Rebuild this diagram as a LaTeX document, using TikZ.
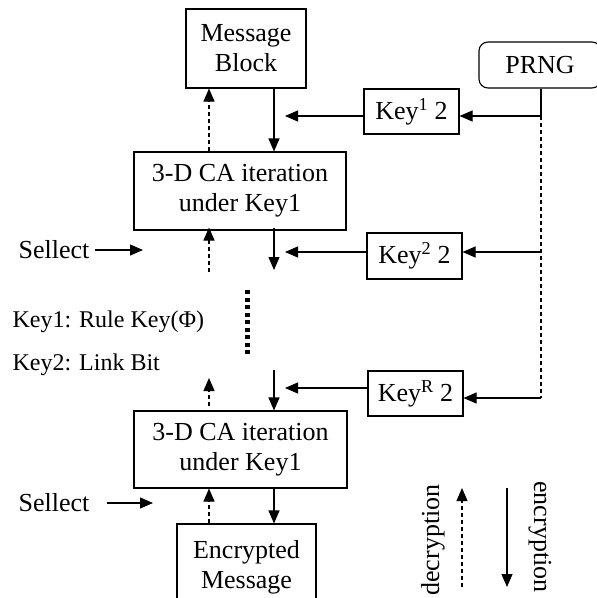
\documentclass[tikz,border=0pt]{standalone}
\usepackage{fontspec}
\setmainfont{Liberation Serif}
\usetikzlibrary{arrows.meta}
\begin{document}
\begin{tikzpicture}[x=1pt,y=-1pt, line width=1.1pt,
  box/.style={draw, rectangle, inner sep=0pt, align=center, font=\fontsize{26}{30}\selectfont},
  arr/.style={-{Triangle[length=13pt,width=11pt]}},
  dsh/.style={dash pattern=on 4pt off 3pt},
  lbl/.style={font=\fontsize{26}{30}\selectfont, inner sep=0pt},
  small/.style={font=\fontsize{24}{27}\selectfont, inner sep=0pt, anchor=west}]
\useasboundingbox (0,0) rectangle (597,598);
\clip (0,0) rectangle (597,598);
\node[box, minimum width=120pt, minimum height=79pt] (mb) at (246,48.5) {Message\\Block};
\node[box, rounded corners=9pt, minimum width=122pt, minimum height=46pt] (prng) at (540,65) {PRNG};
\node[box, minimum width=95pt, minimum height=45pt] (k1) at (411.5,111.5) {Key\textsuperscript{1} 2};
\node[box, minimum width=212pt, minimum height=78pt] (ca1) at (240,191) {3-D CA iteration\\under Key1};
\node[box, minimum width=95pt, minimum height=46pt] (k2) at (414.5,256) {Key\textsuperscript{2} 2};
\node[box, minimum width=95pt, minimum height=45pt] (kr) at (415.5,393.5) {Key\textsuperscript{R} 2};
\node[box, minimum width=213pt, minimum height=77pt] (ca2) at (240.5,449.5) {3-D CA iteration\\under Key1};
\node[box, minimum width=139pt, minimum height=86pt] (em) at (246.5,567) {Encrypted\\Message};
\coordinate (xe) at (274,0);
\coordinate (xd) at (209,0);
\coordinate (xp) at (541,0);
% top pair
\draw[arr] (mb.south -| xe) -- (ca1.north -| xe);
\draw[arr,dsh] (ca1.north -| xd) -- (mb.south -| xd);
% PRNG feed
\coordinate (p1) at (541,116);
\coordinate (p2) at (541,252);
\coordinate (p3) at (541,398);
\draw (prng.south -| xp) -- (p1);
\draw[dsh] (p1) -- (p3);
\draw[arr] (p1) -- (k1.east |- p1);
\draw[arr] (p2) -- (k2.east |- p2);
\draw[arr] (p3) -- (kr.east |- p3);
% key outputs
\coordinate (t1) at (285,116);
\coordinate (t2) at (285,252);
\coordinate (t3) at (285,388);
\draw[arr] (k1.west |- t1) -- (t1);
\draw[arr] (k2.west |- t2) -- (t2);
\draw[arr] (kr.west |- t3) -- (t3);
% middle arrows
\coordinate (a1) at (274,270);
\coordinate (a2) at (209,272);
\coordinate (a3) at (274,370);
\coordinate (a4) at (209,378);
\draw[arr] ([yshift=3pt]ca1.south -| xe) -- (a1);
\draw[arr,dsh] (a2) -- ([yshift=3pt]ca1.south -| xd);
\draw[arr] (a3) -- (ca2.north -| xe);
\draw[arr,dsh] ([yshift=4pt]ca2.north -| xd) -- (a4);
\draw[arr] (ca2.south -| xe) -- (em.north -| xe);
\draw[arr,dsh] (em.north -| xd) -- (ca2.south -| xd);
% dotted continuation
\draw[line width=5pt, dash pattern=on 4pt off 3.5pt] (247,290) -- (247,357);
% select labels
\node[lbl, anchor=east] (s1) at (90,250) {Sellect};
\coordinate (s1e) at (143,250);
\draw[arr] ([xshift=5pt]s1.east) -- (s1e);
\node[lbl, anchor=east] (s2) at (90,503) {Sellect};
\coordinate (s2e) at (153,503);
\draw[arr] ([xshift=17pt]s2.east) -- (s2e);
% key legend
\node[small] (kd1) at (12,322) {Key1: Rule Key(Φ)};
\node[small] (kd2) at (12,365) {Key2: Link Bit};
% direction legend
\node[lbl, rotate=90] (dec) at (433,540) {decryption};
\node[lbl, rotate=-90] (enc) at (540,537) {encryption};
\coordinate (l1) at (462,587);
\coordinate (l2) at (462,488);
\coordinate (l3) at (507,488);
\coordinate (l4) at (507,587);
\draw[arr,dsh] (l1) -- (l2);
\draw[arr] (l3) -- (l4);
\end{tikzpicture}
\end{document}
